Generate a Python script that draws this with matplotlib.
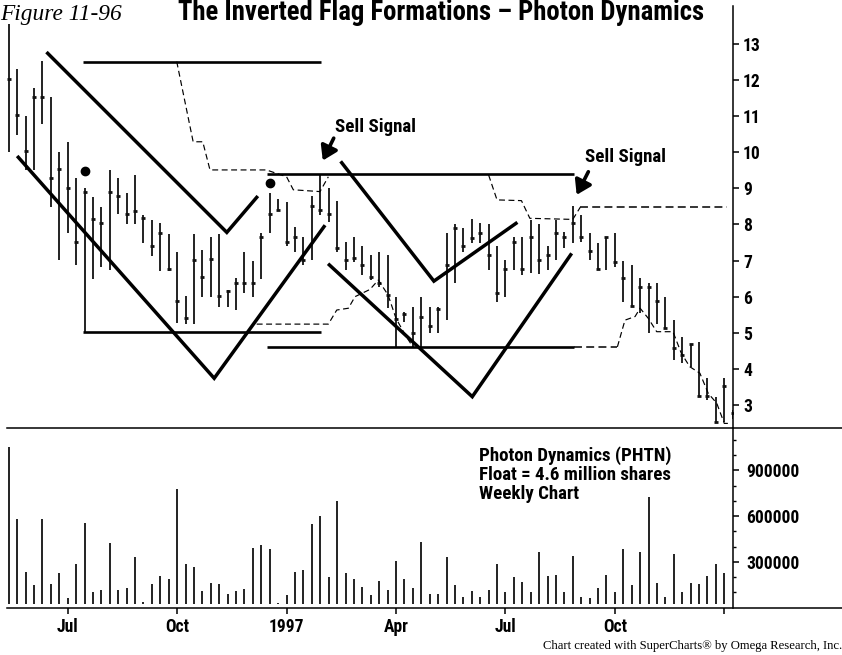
import numpy as np
import matplotlib
matplotlib.use('Agg')
import matplotlib.pyplot as plt
from matplotlib import font_manager
from matplotlib.lines import Line2D

# ---------------- data ----------------
week = list(range(87))
high = [13.55, 12.30, 11.0, 11.77, 12.53, 11.52, 10.0, 10.28, 9.28, 9.0,
        8.77, 8.49, 9.51, 9.28, 8.88, 9.37, 8.26, 8.12, 8.03, 7.74,
        7.25, 6.02, 7.74, 7.29, 7.66, 7.74, 6.19, 6.51, 7.25, 7.0,
        7.76, 8.86, 8.7, 8.63, 7.94, 7.66, 8.79, 9.37, 9.0, 8.66,
        7.52, 7.66, 7.39, 7.15, 7.25, 7.15, 6.0, 5.58, 5.72, 6.0,
        5.72, 5.72, 7.76, 8.01, 7.89, 8.14, 8.03, 8.01, 7.39, 7.02,
        7.66, 7.66, 8.12, 8.01, 7.39, 8.12, 7.80, 8.51, 8.26, 7.76,
        7.50, 7.66, 7.76, 7.0, 6.88, 6.51, 6.39, 6.37, 6.0, 5.35,
        4.89, 4.69, 4.75, 3.74, 3.23, 3.74, 2.85]
low = [10.02, 10.48, 9.51, 9.51, 10.78, 8.49, 7.02, 7.76, 6.88, 5.03,
       6.48, 6.83, 6.74, 8.28, 8.01, 8.01, 7.50, 7.13, 6.72, 6.72,
       5.26, 5.24, 5.24, 6.0, 6.0, 5.72, 5.71, 5.63, 6.11, 6.0,
       6.48, 7.76, 8.36, 7.39, 7.25, 6.88, 7.02, 8.25, 8.08, 7.25,
       6.74, 6.97, 6.60, 6.46, 6.28, 5.68, 4.61, 5.31, 4.61, 4.61,
       4.99, 4.99, 5.35, 6.37, 7.25, 7.48, 7.48, 6.74, 5.86, 6.0,
       6.74, 6.60, 6.65, 6.63, 6.74, 7.02, 7.34, 7.50, 7.52, 7.02,
       6.74, 6.74, 6.83, 5.86, 5.72, 5.54, 4.99, 5.24, 5.10, 4.25,
       4.16, 4.04, 3.25, 3.14, 2.54, 2.54, 2.6]
close = [12.02, 11.03, 10.04, 11.52, 11.52, 9.30, 9.53, 9.02, 7.52, 8.9,
         8.15, 8.03, 8.89, 8.80, 8.29, 8.38, 8.17, 7.39, 7.76, 6.76,
         5.89, 5.40, 7.02, 6.54, 7.04, 6.02, 6.17, 6.39, 6.39, 6.39,
         7.66, 8.29, 8.40, 7.52, 7.65, 7.02, 8.51, 8.40, 8.28, 7.34,
         7.02, 7.06, 6.88, 6.54, 6.37, 6.05, 5.37, 5.52, 5.0, 5.45,
         5.19, 5.65, 6.88, 7.89, 7.39, 7.62, 7.76, 7.16, 6.09, 6.76,
         7.52, 6.76, 7.66, 7.02, 7.16, 7.76, 7.66, 8.03, 7.66, 7.27,
         6.76, 7.65, 6.97, 6.51, 5.74, 6.26, 6.26, 5.89, 5.12, 4.57,
         4.39, 4.69, 3.25, 3.25, 2.54, 3.53, 2.77]
vol_week = list(range(86))
volume = [1050000, 581000, 232000, 149000, 581000, 153000, 225000, 62000, 284000, 557000,
          105000, 116000, 426000, 116000, 129000, 334000, 35000, 155000, 210000, 188000,
          777000, 284000, 265000, 109000, 164000, 155000, 90000, 109000, 120000, 389000,
          413000, 384000, 31000, 83000, 234000, 249000, 548000, 603000, 203000, 699000,
          225000, 186000, 136000, 83000, 177000, 116000, 308000, 186000, 127000, 430000,
          90000, 90000, 330000, 149000, 72000, 107000, 68000, 116000, 284000, 105000,
          203000, 168000, 105000, 363000, 208000, 216000, 103000, 339000, 68000, 62000,
          127000, 214000, 105000, 384000, 147000, 363000, 723000, 160000, 72000, 352000,
          105000, 160000, 153000, 210000, 284000, 225000]

x_tick_pos = [7, 20, 33, 46, 59, 72, 85]
x_tick_lab = ['Jul', 'Oct', '1997', 'Apr', 'Jul', 'Oct', '']
price_ticks = [3, 4, 5, 6, 7, 8, 9, 10, 11, 12, 13]
vol_ticks = [300000, 600000, 900000]
vol_minor = [100000, 200000, 400000, 500000, 700000, 800000, 1000000, 1100000]

# flag boundaries (start week, end week, price)
flag1_top = ([8.8, 37.1], [12.51, 12.51])
flag1_bot = ([8.8, 37.1], [5.03, 5.03])
flag2_top = ([30.7, 67.1], [9.39, 9.39])
flag2_bot = ([30.7, 67.1], [4.61, 4.61])
# channel lines
chan1_up_x = [4.62, 25.9, 29.45]
chan1_up_y = [12.74, 7.78, 8.75]
chan1_lo_x = [1.13, 24.4, 37.45]
chan1_lo_y = [9.86, 3.74, 7.94]
chan2_up_x = [39.55, 50.5, 60.25]
chan2_up_y = [9.71, 6.43, 8.03]
chan2_lo_x = [38.08, 55.06, 66.75]
chan2_lo_y = [6.88, 3.23, 7.16]
# trailing stops (dashed)
stop1_hi_x = [19.95, 21.9, 23.04, 23.9, 30.6, 33.0, 33.8, 36.97, 37.96]
stop1_hi_y = [12.51, 10.29, 10.29, 9.51, 9.51, 9.32, 8.96, 8.91, 9.32]
stop1_lo_x = [29.45, 37.96, 38.96, 40.34, 41.13, 42.9, 43.9, 45.05, 46.0, 47.07, 48.0]
stop1_lo_y = [5.24, 5.24, 5.63, 5.68, 6.0, 6.2, 6.46, 6.05, 5.4, 4.95, 4.61]
stop2_hi_x = [57.0, 58.0, 60.9, 61.9, 67.0, 67.9]
stop2_hi_y = [9.37, 8.68, 8.66, 8.17, 8.14, 8.48]
stop2_hi_long_x = [67.9, 85.3]
stop2_hi_long_y = [8.48, 8.48]
stop2_lo_long_x = [67.1, 72.3]
stop2_lo_long_y = [4.61, 4.61]
stop2_lo_x = [72.3, 73.2, 74.4, 75.0, 75.97, 76.97, 78.9, 79.9, 80.9, 82.1, 83.1, 84.1, 85.0, 85.7]
stop2_lo_y = [4.61, 5.35, 5.45, 5.68, 5.40, 5.03, 5.03, 4.43, 4.06, 3.88, 3.32, 3.05, 2.49, 2.49]
dots_x = [9.1, 31.0]
dots_y = [9.48, 9.16]
signal_text = ['Sell Signal', 'Sell Signal']
signal_text_x = [38.75, 68.5]
signal_text_y = [10.70, 9.88]
signal_tail = [(38.6, 10.39), (68.85, 9.46)]
signal_head = [(37.3, 9.77), (67.46, 8.82)]
info_text = 'Photon Dynamics (PHTN)\nFloat = 4.6 million shares\nWeekly Chart'
title_fig = 'Figure 11-96'
title_main = 'The Inverted Flag Formations \u2013 Photon Dynamics'
credit = 'Chart created with SuperCharts\u00ae by Omega Research, Inc.'

# ---------------- fonts ----------------
fl = font_manager.fontManager.ttflist


def weights_of(name):
    out = set()
    for f in fl:
        if f.name == name:
            w = f.weight
            if isinstance(w, str):
                w = {'bold': 700, 'black': 900, 'heavy': 900, 'extra bold': 800}.get(w, 400)
            out.add(int(w))
    return out


COND = 'DejaVu Sans'
for cand in ['Roboto Condensed', 'Barlow Semi Condensed', 'Asap Condensed',
             'Archivo Narrow', 'Barlow Condensed', 'Liberation Sans Narrow']:
    if 700 in weights_of(cand):
        COND = cand
        break
ws = weights_of(COND)
WEIGHT = 800 if 800 in ws else 'bold'
names = {f.name for f in fl}
SERIF = 'Liberation Serif' if 'Liberation Serif' in names else 'DejaVu Serif'
BOLD = dict(family=[COND, 'DejaVu Sans'], weight=WEIGHT)

W, H = 842, 655
fig = plt.figure(figsize=(W / 100, H / 100), dpi=100)
renderer = fig.canvas.get_renderer()


def fit_size(text, target_px, **props):
    t = fig.text(0, 0, text, fontsize=10, **props)
    w = t.get_window_extent(renderer).width
    t.remove()
    return 10.0 * target_px / w


FS = fit_size('Float = 4.6 million shares', 192, **BOLD)
FS_TICK = fit_size('900000', 53, **BOLD)
FS_TITLE = fit_size(title_main, 527, **BOLD)
FS_FIG = fit_size(title_fig, 122, family=[SERIF, 'DejaVu Serif'], style='italic')
FS_CREDIT = fit_size(credit, 298, family=[SERIF, 'DejaVu Serif'])

L = 6.7 / W
R = 733.3 / W
y_top, y_mid, y_bot = 6, 428, 607.7
ax = fig.add_axes([L, 1 - y_mid / H, R - L, (y_mid - y_top) / H])
axv = fig.add_axes([L, 1 - y_bot / H, R - L, (y_bot - y_mid) / H])

XL = (-0.25, 86.07)
for a in (ax, axv):
    a.set_xlim(*XL)
    a.set_facecolor('none')
    for s in ('left', 'top', 'bottom'):
        a.spines[s].set_visible(False)
    a.spines['right'].set_linewidth(1.1)
    a.yaxis.tick_right()

ax.set_ylim(2.363, 14.05)
axv.set_ylim(0, 1177000)

INK = '#111111'
# price bars
ax.vlines(week, low, high, colors=INK, lw=1.3)
ax.plot(week, close, ls='none', marker='_', ms=3.2, mew=2, color=INK)

# flags
for xs, ys in (flag1_top, flag1_bot, flag2_top, flag2_bot):
    ax.plot(xs, ys, color='k', lw=1.9, solid_capstyle='butt')
for xs, ys in ((chan1_up_x, chan1_up_y), (chan1_lo_x, chan1_lo_y),
               (chan2_up_x, chan2_up_y), (chan2_lo_x, chan2_lo_y)):
    ax.plot(xs, ys, color='k', lw=2.5, solid_joinstyle='miter')
for xs, ys in ((stop1_hi_x, stop1_hi_y), (stop1_lo_x, stop1_lo_y),
               (stop2_hi_x, stop2_hi_y), (stop2_lo_x, stop2_lo_y)):
    ax.plot(xs, ys, color='k', lw=0.85, dashes=(5, 3))
for xs, ys in ((stop2_hi_long_x, stop2_hi_long_y), (stop2_lo_long_x, stop2_lo_long_y)):
    ax.plot(xs, ys, color='k', lw=1.1, dashes=(5.2, 2.8))
ax.plot(dots_x, dots_y, ls='none', marker='o', ms=6, color='k')

for t, tx, ty, tail, head in zip(signal_text, signal_text_x, signal_text_y, signal_tail, signal_head):
    ax.text(tx, ty, t, ha='left', va='center', fontsize=FS, **BOLD)
    ax.annotate('', xy=head, xytext=tail,
                arrowprops=dict(arrowstyle='-|>,head_length=0.7,head_width=0.45',
                                lw=2.6, color='k', shrinkA=0, shrinkB=0, mutation_scale=12))

ax.set_yticks(price_ticks)
ax.set_yticklabels([str(v) for v in price_ticks])
ax.set_xticks([])
ax.tick_params(axis='y', direction='out', length=4, width=1.1, pad=3, labelsize=FS_TICK)
for lab in ax.get_yticklabels():
    lab.set_fontfamily([COND, 'DejaVu Sans'])
    lab.set_fontweight(WEIGHT)

# volume
VOL_BASE = 22000
axv.vlines(vol_week, VOL_BASE, volume, colors=INK, lw=1.3)
axv.set_yticks(vol_ticks)
axv.set_yticklabels([str(v) for v in vol_ticks])
axv.set_yticks(vol_minor, minor=True)
axv.tick_params(axis='y', which='major', direction='out', length=4.5, width=1.1, pad=5, labelsize=FS_TICK)
axv.tick_params(axis='y', which='minor', direction='out', length=2, width=1.0)
axv.set_xticks(x_tick_pos)
axv.set_xticklabels(x_tick_lab)
axv.tick_params(axis='x', direction='out', length=4, width=1.1, pad=3.5, labelsize=FS_TICK)
for lab in axv.get_yticklabels() + axv.get_xticklabels():
    lab.set_fontfamily([COND, 'DejaVu Sans'])
    lab.set_fontweight(WEIGHT)
axv.text(55.86, 1054600, info_text, ha='left', va='top', fontsize=FS, linespacing=1.07, **BOLD)

# horizontal separators that run past the price scale
for yy in (y_mid, y_bot):
    fig.add_artist(Line2D([L, 1.0], [1 - yy / H, 1 - yy / H], transform=fig.transFigure,
                          color='k', lw=1.1))

# title and credit
fig.text(0.0, 1 - 20 / H, title_fig, ha='left', va='baseline', fontsize=FS_FIG,
         family=[SERIF, 'DejaVu Serif'], style='italic')
fig.text(178 / W, 1 - 20 / H, title_main, ha='left', va='baseline', fontsize=FS_TITLE, **BOLD)
fig.text(1.0, 1 - 646.5 / H, credit, ha='right', va='center', fontsize=FS_CREDIT,
         family=[SERIF, 'DejaVu Serif'])

fig.savefig('out.png', dpi=100)
